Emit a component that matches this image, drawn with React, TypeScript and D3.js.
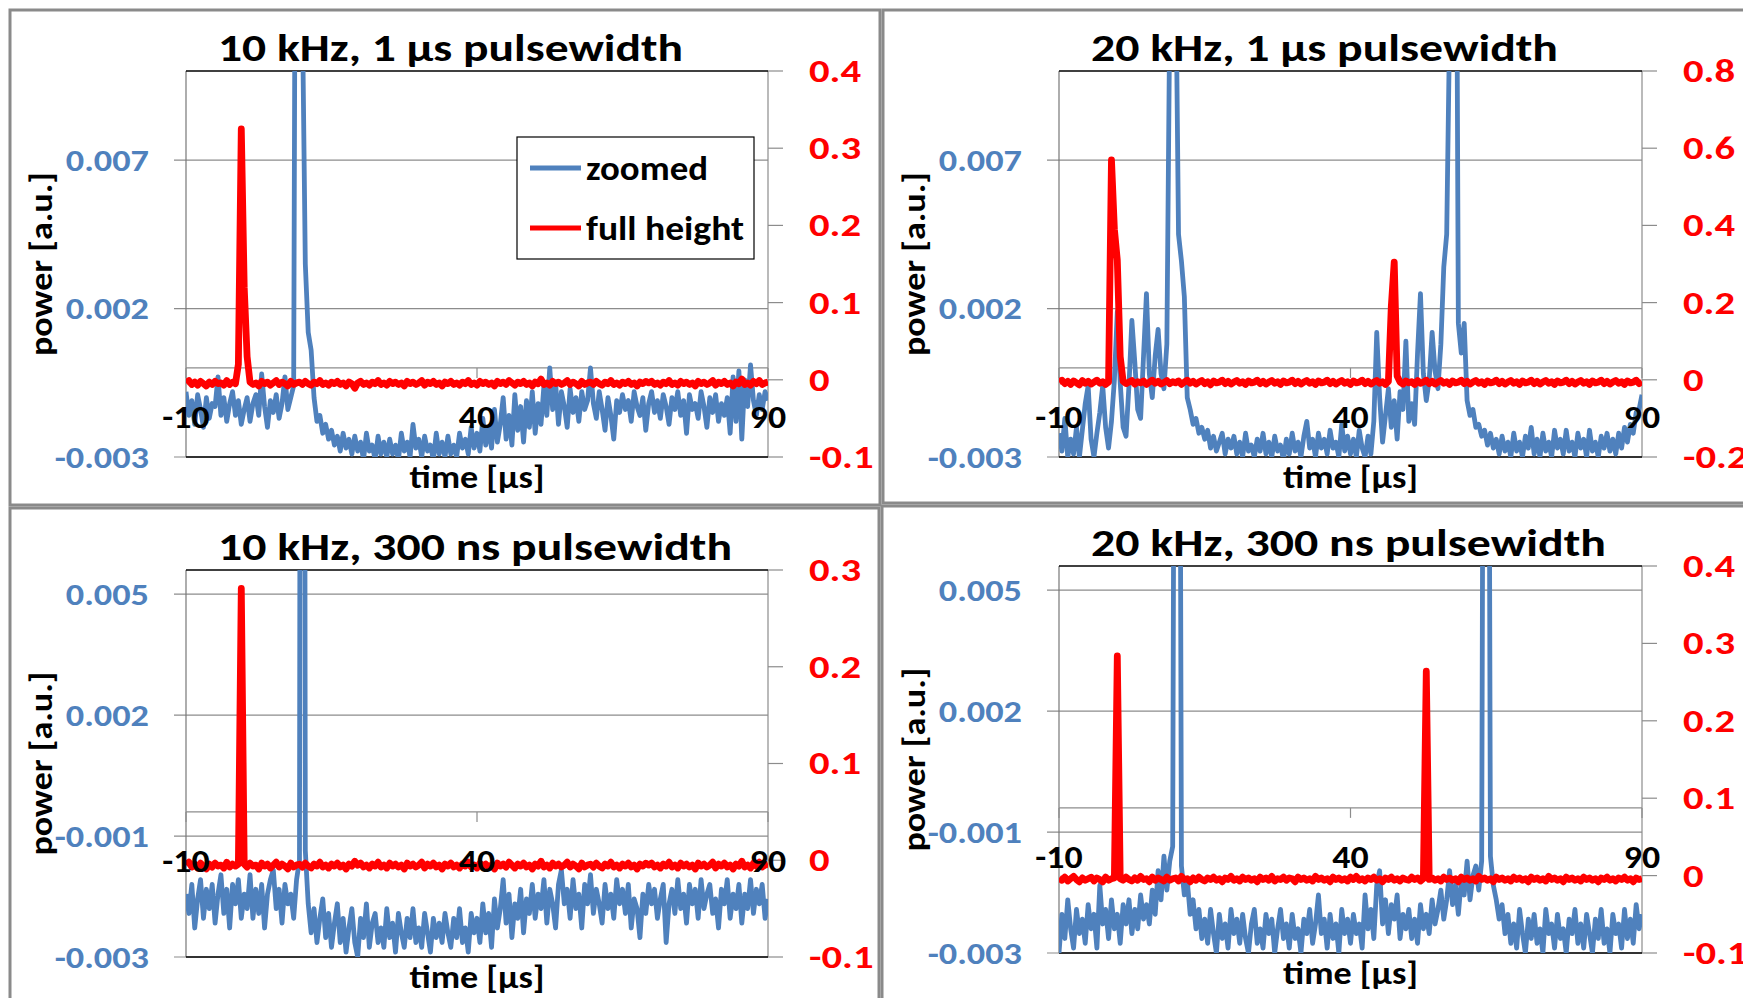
import React from 'react';
import * as d3 from 'd3';

// sampling instants of the oscilloscope traces, in µs
const timeUs: number[] = d3.range(-10, 90.001, 0.5);

// ---------- 10 kHz, 1 µs ----------
const zoomed10k1us = [
  -0.0008,-0.0016,-0.0011,-0.0019,-0.0009,-0.0014,-0.0020,-0.0010,-0.0017,-0.0012,
  -0.0013,-0.0003,-0.0016,-0.0010,-0.0018,-0.0012,-0.0008,-0.0016,-0.0011,-0.0019,
  -0.0014,-0.0010,-0.0018,-0.0012,-0.0009,-0.0016,-0.0002,-0.0013,-0.0020,-0.0011,
  -0.0015,-0.0009,-0.0017,-0.0012,-0.0003,-0.0014,-0.0010,-0.0006,0.0300,0.0400,
  0.0120,0.0035,0.0012,0.0006,-0.0010,-0.0018,-0.0016,-0.0022,-0.0019,-0.0024,
  -0.0021,-0.0026,-0.0023,-0.0028,-0.0022,-0.0027,-0.0024,-0.0029,-0.0023,-0.0028,
  -0.0025,-0.0031,-0.0022,-0.0028,-0.0026,-0.0031,-0.0023,-0.0029,-0.0025,-0.0030,
  -0.0024,-0.0029,-0.0026,-0.0031,-0.0022,-0.0028,-0.0025,-0.0030,-0.0019,-0.0027,
  -0.0024,-0.0030,-0.0023,-0.0028,-0.0026,-0.0031,-0.0022,-0.0029,-0.0025,-0.0030,
  -0.0023,-0.0029,-0.0026,-0.0030,-0.0022,-0.0027,-0.0024,-0.0029,-0.0020,-0.0027,
  -0.0022,-0.0028,-0.0017,-0.0026,-0.0020,-0.0027,-0.0014,-0.0025,-0.0019,-0.0010,
  -0.0024,-0.0016,-0.0026,-0.0009,-0.0021,-0.0013,-0.0025,-0.0011,-0.0020,-0.0008,
  -0.0022,-0.0012,-0.0019,-0.0006,-0.0016,0.0000,-0.0014,-0.0005,-0.0019,-0.0008,
  -0.0013,-0.0020,-0.0007,-0.0015,-0.0010,-0.0018,-0.0008,-0.0014,-0.0011,0.0000,
  -0.0012,-0.0017,-0.0008,-0.0014,-0.0021,-0.0010,-0.0016,-0.0024,-0.0011,-0.0015,
  -0.0009,-0.0014,-0.0011,-0.0018,-0.0008,-0.0013,-0.0016,-0.0010,-0.0021,-0.0012,
  -0.0008,-0.0015,-0.0011,-0.0017,-0.0009,-0.0013,-0.0019,-0.0010,-0.0014,-0.0008,
  -0.0016,-0.0011,-0.0022,-0.0009,-0.0014,-0.0012,-0.0017,-0.0008,-0.0013,-0.0020,
  -0.0010,-0.0015,-0.0009,-0.0018,-0.0012,-0.0016,-0.0010,-0.0022,-0.0003,-0.0018,
  -0.0001,-0.0024,-0.0004,-0.0013,0.0001,-0.0011,-0.0016,-0.0009,-0.0014,-0.0008,
  -0.0011,
];
const full10k1us = [
  -0.004,-0.001,-0.006,-0.003,-0.007,-0.002,-0.005,-0.008,-0.003,-0.006,
  -0.002,-0.005,-0.004,-0.007,-0.001,-0.006,-0.003,-0.005,0.020,0.325,
  0.120,0.030,-0.003,-0.006,-0.004,-0.008,-0.002,-0.005,-0.003,-0.007,
  -0.004,-0.001,-0.006,-0.003,-0.005,-0.008,-0.002,-0.006,-0.004,-0.003,
  -0.006,-0.002,-0.005,-0.007,-0.003,-0.005,-0.001,-0.006,-0.004,-0.007,
  -0.003,-0.005,-0.002,-0.006,-0.004,-0.008,-0.003,-0.005,-0.011,-0.004,
  -0.002,-0.006,-0.004,-0.007,-0.003,-0.005,-0.001,-0.006,-0.004,-0.007,
  -0.002,-0.005,-0.003,-0.006,-0.004,-0.008,-0.002,-0.005,-0.003,-0.006,
  -0.004,-0.001,-0.007,-0.003,-0.005,-0.002,-0.006,-0.004,-0.008,-0.003,
  -0.005,-0.002,-0.006,-0.004,-0.007,-0.003,-0.005,-0.001,-0.006,-0.004,
  -0.007,-0.002,-0.005,-0.003,-0.006,-0.004,-0.008,-0.002,-0.005,-0.003,
  -0.006,-0.001,-0.004,-0.007,-0.003,-0.005,-0.002,-0.006,-0.004,-0.008,
  -0.003,-0.005,0.001,-0.006,-0.004,-0.007,-0.002,-0.005,-0.003,-0.006,
  -0.004,-0.001,-0.006,-0.003,-0.005,-0.008,-0.002,-0.006,-0.004,-0.003,
  -0.006,-0.002,-0.005,-0.007,-0.003,-0.005,-0.001,-0.006,-0.004,-0.007,
  -0.003,-0.005,-0.002,-0.006,-0.004,-0.008,-0.003,-0.005,-0.002,-0.004,
  -0.002,-0.006,-0.004,-0.007,-0.003,-0.005,-0.001,-0.006,-0.004,-0.007,
  -0.002,-0.005,-0.003,-0.006,-0.004,-0.008,-0.002,-0.005,-0.003,-0.006,
  -0.004,-0.001,-0.007,-0.003,-0.005,-0.002,-0.006,-0.004,-0.008,-0.003,
  -0.005,0.001,-0.006,-0.004,-0.007,-0.002,-0.005,-0.001,-0.006,-0.004,
  -0.003,
];

// ---------- 20 kHz, 1 µs ----------
const zoomed20k1us = [
  -0.0022,-0.0028,-0.0017,-0.0030,-0.0024,-0.0029,-0.0020,-0.0030,-0.0021,-0.0012,
  -0.0006,-0.0024,-0.0030,-0.0022,-0.0015,-0.0006,-0.0020,-0.0027,-0.0018,-0.0004,
  0.0019,-0.0005,-0.0020,-0.0023,-0.0006,0.0016,0.0002,-0.0014,-0.0017,0.0004,
  0.0025,-0.0002,-0.0010,0.0004,0.0013,-0.0002,-0.0007,0.0008,0.0120,0.0450,
  0.0140,0.0045,0.0036,0.0024,-0.0010,-0.0014,-0.0019,-0.0017,-0.0022,-0.0020,
  -0.0024,-0.0021,-0.0027,-0.0023,-0.0028,-0.0025,-0.0022,-0.0029,-0.0024,-0.0027,
  -0.0023,-0.0029,-0.0025,-0.0030,-0.0022,-0.0028,-0.0026,-0.0030,-0.0024,-0.0028,
  -0.0022,-0.0029,-0.0025,-0.0030,-0.0023,-0.0028,-0.0026,-0.0031,-0.0024,-0.0029,
  -0.0022,-0.0028,-0.0025,-0.0030,-0.0023,-0.0018,-0.0027,-0.0024,-0.0030,-0.0022,
  -0.0027,-0.0024,-0.0029,-0.0021,-0.0027,-0.0025,-0.0030,-0.0019,-0.0028,-0.0023,
  -0.0029,-0.0024,-0.0030,-0.0021,-0.0027,-0.0030,-0.0023,-0.0029,-0.0018,0.0012,
  -0.0010,-0.0025,-0.0016,-0.0007,-0.0020,-0.0011,-0.0024,-0.0008,-0.0014,0.0009,
  -0.0018,-0.0012,-0.0019,0.0005,0.0025,-0.0002,-0.0011,-0.0004,0.0012,-0.0001,
  -0.0007,0.0008,0.0034,0.0045,0.0115,0.0500,0.0240,0.0015,0.0005,0.0015,
  -0.0011,-0.0016,-0.0014,-0.0020,-0.0019,-0.0023,-0.0021,-0.0026,-0.0022,-0.0027,
  -0.0024,-0.0029,-0.0023,-0.0028,-0.0025,-0.0030,-0.0022,-0.0028,-0.0025,-0.0030,
  -0.0023,-0.0027,-0.0020,-0.0029,-0.0024,-0.0030,-0.0022,-0.0028,-0.0025,-0.0030,
  -0.0021,-0.0027,-0.0024,-0.0029,-0.0021,-0.0028,-0.0025,-0.0030,-0.0022,-0.0027,
  -0.0024,-0.0030,-0.0021,-0.0028,-0.0025,-0.0030,-0.0023,-0.0027,-0.0022,-0.0028,
  -0.0024,-0.0029,-0.0022,-0.0027,-0.0020,-0.0025,-0.0019,-0.0022,-0.0015,-0.0014,
  -0.0009,
];
const full20k1us = [
  -0.006,-0.001,-0.010,-0.004,-0.012,-0.003,-0.008,-0.013,-0.002,-0.009,
  -0.004,-0.011,-0.006,-0.001,-0.009,-0.005,-0.012,-0.006,0.570,0.390,
  0.310,0.060,-0.004,-0.010,-0.006,-0.002,-0.011,-0.005,-0.008,-0.003,
  -0.012,-0.006,-0.001,-0.009,-0.004,-0.011,-0.007,-0.002,-0.010,-0.005,
  -0.008,-0.003,-0.012,-0.006,-0.001,-0.009,-0.004,-0.011,-0.006,-0.002,
  -0.010,-0.005,-0.013,-0.003,-0.008,-0.006,-0.001,-0.010,-0.004,-0.011,
  -0.006,-0.002,-0.009,-0.005,-0.012,-0.003,-0.008,-0.006,-0.001,-0.010,
  -0.004,-0.011,-0.006,-0.002,-0.009,-0.005,-0.012,-0.003,-0.008,-0.006,
  -0.001,-0.010,-0.004,-0.011,-0.006,-0.002,-0.009,-0.005,-0.012,-0.003,
  -0.008,-0.006,-0.001,-0.010,-0.004,-0.011,-0.006,-0.002,-0.009,-0.005,
  -0.012,-0.003,-0.008,-0.006,-0.001,-0.010,-0.004,-0.011,-0.006,-0.002,
  -0.009,-0.005,-0.012,-0.004,0.190,0.305,0.010,-0.006,-0.011,-0.003,
  -0.008,-0.005,-0.012,-0.002,-0.009,-0.006,-0.001,-0.010,-0.004,-0.011,
  -0.006,-0.002,-0.009,-0.005,-0.012,-0.003,-0.008,-0.006,-0.001,-0.010,
  -0.004,-0.011,-0.006,-0.002,-0.009,-0.005,-0.012,-0.003,-0.008,-0.006,
  -0.001,-0.010,-0.004,-0.011,-0.006,-0.002,-0.009,-0.005,-0.012,-0.003,
  -0.008,-0.006,-0.001,-0.010,-0.004,-0.011,-0.006,-0.002,-0.009,-0.005,
  -0.012,-0.003,-0.008,-0.006,-0.001,-0.010,-0.004,-0.011,-0.006,-0.002,
  -0.009,-0.005,-0.012,-0.003,-0.008,-0.006,-0.001,-0.010,-0.004,-0.011,
  -0.006,-0.002,-0.009,-0.005,-0.012,-0.003,-0.008,-0.006,-0.001,-0.010,
  -0.005,
];

// ---------- 10 kHz, 300 ns ----------
const zoomed10k300ns = [
  -0.0017,-0.0021,-0.0015,-0.0024,-0.0018,-0.0014,-0.0022,-0.0016,-0.0020,-0.0015,
  -0.0023,-0.0017,-0.0013,-0.0021,-0.0016,-0.0024,-0.0015,-0.0019,-0.0014,-0.0022,
  -0.0017,-0.0020,-0.0013,-0.0022,-0.0016,-0.0021,-0.0015,-0.0024,-0.0017,-0.0014,
  -0.0012,-0.0020,-0.0016,-0.0023,-0.0015,-0.0019,-0.0017,-0.0022,-0.0014,-0.0010,
  0.0500,-0.0008,-0.0019,-0.0025,-0.0020,-0.0027,-0.0022,-0.0018,-0.0026,-0.0021,
  -0.0028,-0.0023,-0.0019,-0.0027,-0.0022,-0.0029,-0.0024,-0.0020,-0.0027,-0.0030,
  -0.0022,-0.0026,-0.0019,-0.0028,-0.0023,-0.0021,-0.0027,-0.0024,-0.0028,-0.0020,
  -0.0026,-0.0023,-0.0029,-0.0021,-0.0025,-0.0028,-0.0022,-0.0026,-0.0020,-0.0027,
  -0.0024,-0.0028,-0.0021,-0.0025,-0.0029,-0.0022,-0.0026,-0.0023,-0.0027,-0.0021,
  -0.0025,-0.0028,-0.0022,-0.0026,-0.0020,-0.0027,-0.0024,-0.0029,-0.0021,-0.0025,
  -0.0022,-0.0027,-0.0019,-0.0025,-0.0021,-0.0028,-0.0018,-0.0024,-0.0020,-0.0014,
  -0.0023,-0.0017,-0.0026,-0.0019,-0.0022,-0.0016,-0.0025,-0.0018,-0.0021,-0.0015,
  -0.0022,-0.0017,-0.0020,-0.0014,-0.0023,-0.0016,-0.0019,-0.0024,-0.0015,-0.0012,
  -0.0019,-0.0016,-0.0022,-0.0014,-0.0020,-0.0017,-0.0024,-0.0015,-0.0019,-0.0013,
  -0.0021,-0.0016,-0.0019,-0.0023,-0.0015,-0.0020,-0.0017,-0.0022,-0.0014,-0.0019,
  -0.0016,-0.0021,-0.0015,-0.0024,-0.0018,-0.0020,-0.0026,-0.0017,-0.0021,-0.0015,
  -0.0019,-0.0016,-0.0022,-0.0018,-0.0015,-0.0027,-0.0019,-0.0016,-0.0021,-0.0014,
  -0.0020,-0.0017,-0.0023,-0.0015,-0.0019,-0.0016,-0.0022,-0.0014,-0.0020,-0.0017,
  -0.0015,-0.0021,-0.0018,-0.0024,-0.0016,-0.0019,-0.0014,-0.0022,-0.0017,-0.0020,
  -0.0015,-0.0023,-0.0017,-0.0020,-0.0014,-0.0021,-0.0016,-0.0019,-0.0015,-0.0022,
  -0.0018,
];
const full10k300ns = [
  -0.005,-0.002,-0.007,-0.004,-0.008,-0.003,-0.006,-0.009,-0.004,-0.007,
  -0.003,-0.006,-0.005,-0.008,-0.002,-0.007,-0.004,-0.006,-0.004,0.281,
  -0.004,-0.007,-0.003,-0.006,-0.005,-0.009,-0.003,-0.006,-0.004,-0.008,
  -0.005,-0.002,-0.007,-0.004,-0.006,-0.009,-0.003,-0.007,-0.005,-0.004,
  -0.007,-0.003,-0.006,-0.008,-0.004,-0.006,-0.002,-0.007,-0.005,-0.008,
  -0.004,-0.006,-0.003,-0.007,-0.005,-0.009,-0.004,-0.006,-0.001,-0.005,
  -0.003,-0.007,-0.005,-0.008,-0.004,-0.006,-0.002,-0.007,-0.005,-0.008,
  -0.003,-0.006,-0.004,-0.007,-0.005,-0.009,-0.003,-0.006,-0.004,-0.007,
  -0.005,-0.002,-0.008,-0.004,-0.006,-0.003,-0.007,-0.005,-0.009,-0.004,
  -0.006,-0.003,-0.007,-0.005,-0.008,-0.004,-0.006,-0.002,-0.007,-0.005,
  -0.008,-0.003,-0.006,-0.004,-0.007,-0.005,-0.009,-0.003,-0.006,-0.004,
  -0.007,-0.002,-0.005,-0.008,-0.004,-0.006,-0.003,-0.007,-0.005,-0.009,
  -0.004,-0.006,-0.001,-0.007,-0.005,-0.008,-0.003,-0.006,-0.004,-0.007,
  -0.005,-0.002,-0.007,-0.004,-0.006,-0.009,-0.003,-0.007,-0.005,-0.004,
  -0.007,-0.003,-0.006,-0.008,-0.004,-0.006,-0.002,-0.007,-0.005,-0.008,
  -0.004,-0.006,-0.003,-0.007,-0.005,-0.009,-0.004,-0.006,-0.003,-0.005,
  -0.003,-0.007,-0.005,-0.008,-0.004,-0.006,-0.002,-0.007,-0.005,-0.008,
  -0.003,-0.006,-0.004,-0.007,-0.005,-0.009,-0.003,-0.006,-0.004,-0.007,
  -0.005,-0.002,-0.008,-0.004,-0.006,-0.003,-0.007,-0.005,-0.009,-0.004,
  -0.006,-0.001,-0.007,-0.005,-0.008,-0.003,-0.006,-0.002,-0.007,-0.005,
  -0.004,
];

// ---------- 20 kHz, 300 ns ----------
const zoomed20k300ns = [
  -0.0030,-0.0022,-0.0027,-0.0019,-0.0025,-0.0029,-0.0021,-0.0026,-0.0023,-0.0028,
  -0.0020,-0.0025,-0.0022,-0.0029,-0.0016,-0.0024,-0.0021,-0.0027,-0.0019,-0.0025,
  -0.0022,-0.0028,-0.0020,-0.0024,-0.0019,-0.0026,-0.0021,-0.0025,-0.0018,-0.0023,
  -0.0020,-0.0024,-0.0017,-0.0022,-0.0013,-0.0019,-0.0010,-0.0017,-0.0011,-0.0008,
  0.0200,0.0200,-0.0012,-0.0018,-0.0015,-0.0022,-0.0019,-0.0025,-0.0021,-0.0027,
  -0.0023,-0.0028,-0.0021,-0.0026,-0.0030,-0.0022,-0.0027,-0.0024,-0.0029,-0.0021,
  -0.0026,-0.0023,-0.0028,-0.0022,-0.0027,-0.0030,-0.0024,-0.0021,-0.0028,-0.0025,
  -0.0029,-0.0022,-0.0026,-0.0023,-0.0030,-0.0025,-0.0021,-0.0027,-0.0024,-0.0029,
  -0.0022,-0.0027,-0.0025,-0.0030,-0.0023,-0.0026,-0.0021,-0.0028,-0.0024,-0.0018,
  -0.0026,-0.0023,-0.0029,-0.0022,-0.0027,-0.0024,-0.0030,-0.0021,-0.0026,-0.0023,
  -0.0028,-0.0022,-0.0026,-0.0024,-0.0029,-0.0018,-0.0025,-0.0021,-0.0027,-0.0016,
  -0.0013,-0.0024,-0.0019,-0.0026,-0.0020,-0.0023,-0.0018,-0.0027,-0.0022,-0.0025,
  -0.0021,-0.0027,-0.0023,-0.0028,-0.0020,-0.0025,-0.0022,-0.0026,-0.0019,-0.0024,
  -0.0021,-0.0017,-0.0023,-0.0019,-0.0013,-0.0020,-0.0016,-0.0022,-0.0015,-0.0018,
  -0.0011,-0.0019,-0.0014,-0.0012,-0.0017,-0.0011,0.0200,0.0200,-0.0010,-0.0016,
  -0.0019,-0.0023,-0.0020,-0.0026,-0.0022,-0.0028,-0.0024,-0.0029,-0.0021,-0.0026,
  -0.0030,-0.0023,-0.0027,-0.0022,-0.0028,-0.0025,-0.0030,-0.0021,-0.0026,-0.0024,
  -0.0029,-0.0022,-0.0027,-0.0025,-0.0030,-0.0023,-0.0026,-0.0021,-0.0028,-0.0024,
  -0.0029,-0.0022,-0.0026,-0.0030,-0.0023,-0.0027,-0.0021,-0.0028,-0.0025,-0.0030,
  -0.0022,-0.0026,-0.0024,-0.0029,-0.0021,-0.0027,-0.0023,-0.0028,-0.0020,-0.0025,
  -0.0022,
];
const full20k300ns = [
  -0.003,-0.006,-0.002,-0.007,-0.004,-0.001,-0.005,-0.008,-0.003,-0.006,
  -0.004,-0.002,-0.007,-0.003,-0.005,-0.008,-0.002,-0.006,-0.004,-0.003,
  0.284,-0.004,-0.006,-0.002,-0.005,-0.007,-0.003,-0.006,-0.001,-0.005,
  -0.004,-0.008,-0.002,-0.006,-0.003,-0.005,-0.007,-0.002,-0.006,-0.004,
  -0.003,-0.007,-0.001,-0.005,-0.004,-0.008,-0.003,-0.006,-0.002,-0.005,
  -0.007,-0.003,-0.005,-0.002,-0.006,-0.004,-0.008,-0.003,-0.005,-0.001,
  -0.006,-0.004,-0.007,-0.002,-0.005,-0.003,-0.006,-0.004,-0.008,-0.002,
  -0.005,-0.003,-0.006,-0.001,-0.007,-0.004,-0.005,-0.002,-0.006,-0.003,
  -0.004,-0.008,-0.002,-0.005,-0.003,-0.006,-0.004,-0.007,-0.001,-0.005,
  -0.003,-0.006,-0.004,-0.008,-0.002,-0.005,-0.003,-0.006,-0.004,-0.007,
  -0.002,-0.005,-0.001,-0.006,-0.004,-0.007,-0.003,-0.005,-0.002,-0.006,
  -0.004,-0.008,-0.003,-0.005,-0.002,-0.006,-0.004,-0.007,-0.003,-0.005,
  -0.006,-0.002,-0.005,-0.003,-0.007,-0.004,0.264,-0.005,-0.003,-0.006,
  -0.004,-0.007,-0.002,-0.005,-0.003,-0.006,-0.004,-0.008,-0.002,-0.005,
  -0.003,-0.006,-0.004,-0.007,-0.001,-0.005,-0.003,-0.006,-0.004,-0.008,
  -0.002,-0.005,-0.003,-0.006,-0.004,-0.007,-0.002,-0.005,-0.003,-0.006,
  -0.004,-0.008,-0.002,-0.005,-0.003,-0.006,-0.004,-0.007,-0.001,-0.005,
  -0.003,-0.006,-0.004,-0.008,-0.002,-0.005,-0.003,-0.006,-0.004,-0.007,
  -0.002,-0.005,-0.003,-0.006,-0.004,-0.008,-0.003,-0.005,-0.002,-0.006,
  -0.004,-0.007,-0.003,-0.005,-0.002,-0.006,-0.004,-0.008,-0.003,-0.005,
  -0.004,
];

// ---------- axes ----------
const titles = [
  '10 kHz, 1 µs pulsewidth',
  '20 kHz, 1 µs pulsewidth',
  '10 kHz, 300 ns pulsewidth',
  '20 kHz, 300 ns pulsewidth',
];
const xTickValues = [-10, 40, 90];
const xTickLabels = ['-10', '40', '90'];
const leftTicks1us = [-0.003, 0.002, 0.007];
const leftLabels1us = ['-0.003', '0.002', '0.007'];
const leftTicks300ns = [-0.003, -0.0005, 0.002, 0.0045];
const leftLabels300ns = ['-0.003', '-0.001', '0.002', '0.005'];
const rightTicks10k1us = [-0.1, 0, 0.1, 0.2, 0.3, 0.4];
const rightLabels10k1us = ['-0.1', '0', '0.1', '0.2', '0.3', '0.4'];
const rightTicks20k1us = [-0.2, 0, 0.2, 0.4, 0.6, 0.8];
const rightLabels20k1us = ['-0.2', '0', '0.2', '0.4', '0.6', '0.8'];
const rightTicks10k300ns = [-0.1, 0, 0.1, 0.2, 0.3];
const rightLabels10k300ns = ['-0.1', '0', '0.1', '0.2', '0.3'];
const rightTicks20k300ns = [-0.1, 0, 0.1, 0.2, 0.3, 0.4];
const rightLabels20k300ns = ['-0.1', '0', '0.1', '0.2', '0.3', '0.4'];
const legendLabels = ['zoomed', 'full height'];

const BLUE = '#4F81BD';
const RED = '#FF0000';
const GRID = '#8C8C8C';
const FRAME = '#8A8A8A';
const FONT = "Carlito, Calibri, Lato, 'Open Sans', sans-serif";
const BLUE_W = 4.8;
const RED_W = 6.8;

interface PanelDef {
  title: string;
  titleLen: number;
  zoomed: number[];
  full: number[];
  leftDomain: [number, number];
  leftTicks: number[];
  leftLabels: string[];
  rightDomain: [number, number];
  rightTicks: number[];
  rightLabels: string[];
  frame: { x: number; y: number; w: number; h: number };
  plot: { left: number; right: number; top: number; bottom: number };
  legend: boolean;
}

const panels: PanelDef[] = [
  {
    title: titles[0], titleLen: 465, zoomed: zoomed10k1us, full: full10k1us,
    leftDomain: [-0.003, 0.01], leftTicks: leftTicks1us, leftLabels: leftLabels1us,
    rightDomain: [-0.1, 0.4], rightTicks: rightTicks10k1us, rightLabels: rightLabels10k1us,
    frame: { x: 10, y: 10, w: 870, h: 495 },
    plot: { left: 186, right: 768, top: 71, bottom: 457 }, legend: true,
  },
  {
    title: titles[1], titleLen: 467, zoomed: zoomed20k1us, full: full20k1us,
    leftDomain: [-0.003, 0.01], leftTicks: leftTicks1us, leftLabels: leftLabels1us,
    rightDomain: [-0.2, 0.8], rightTicks: rightTicks20k1us, rightLabels: rightLabels20k1us,
    frame: { x: 883, y: 10, w: 880, h: 493 },
    plot: { left: 1059, right: 1642, top: 71, bottom: 457 }, legend: false,
  },
  {
    title: titles[2], titleLen: 514, zoomed: zoomed10k300ns, full: full10k300ns,
    leftDomain: [-0.003, 0.005], leftTicks: leftTicks300ns, leftLabels: leftLabels300ns,
    rightDomain: [-0.1, 0.3], rightTicks: rightTicks10k300ns, rightLabels: rightLabels10k300ns,
    frame: { x: 10, y: 508, w: 869, h: 500 },
    plot: { left: 186, right: 768, top: 570, bottom: 957 }, legend: false,
  },
  {
    title: titles[3], titleLen: 515, zoomed: zoomed20k300ns, full: full20k300ns,
    leftDomain: [-0.003, 0.005], leftTicks: leftTicks300ns, leftLabels: leftLabels300ns,
    rightDomain: [-0.1, 0.4], rightTicks: rightTicks20k300ns, rightLabels: rightLabels20k300ns,
    frame: { x: 882, y: 506, w: 880, h: 500 },
    plot: { left: 1059, right: 1642, top: 566, bottom: 953 }, legend: false,
  },
];

// text stretched horizontally (the source typeface is wider than the fallback)
function Label({ x, y, sx, anchor, size, fill, children }: {
  x: number; y: number; sx: number; anchor: 'start' | 'middle' | 'end'; size: number; fill: string; children: React.ReactNode;
}) {
  return (
    <text transform={`translate(${x},${y}) scale(${sx},1)`} textAnchor={anchor} dominantBaseline="central"
      fontFamily={FONT} fontWeight="bold" fontSize={size} fill={fill}>{children}</text>
  );
}

function Panel({ p, id }: { p: PanelDef; id: number }) {
  const { left, right, top, bottom } = p.plot;
  const x = d3.scaleLinear().domain([-10, 90]).range([left, right]);
  const yL = d3.scaleLinear().domain(p.leftDomain).range([bottom, top]);
  const yR = d3.scaleLinear().domain(p.rightDomain).range([bottom, top]);
  const lineL = d3.line<number>().x((_, i) => x(timeUs[i])).y((v) => yL(v));
  const lineR = d3.line<number>().x((_, i) => x(timeUs[i])).y((v) => yR(v));
  const y0 = yL(0);
  const cx = (left + right) / 2;
  const cy = (top + bottom) / 2;
  const clipId = `clip-${id}`;

  return (
    <g>
      <rect x={p.frame.x} y={p.frame.y} width={p.frame.w} height={p.frame.h}
        fill="none" stroke={FRAME} strokeWidth={3} />
      <defs>
        <clipPath id={clipId}>
          <rect x={left} y={top} width={right - left} height={bottom - top} />
        </clipPath>
      </defs>
      {p.leftTicks.map((v, i) => (
        <line key={`g${i}`} x1={left - 12} x2={right} y1={yL(v)} y2={yL(v)} stroke={GRID} strokeWidth={1.2} />
      ))}
      {p.rightTicks.map((v, i) => (
        <line key={`r${i}`} x1={right} x2={right + 15} y1={yR(v)} y2={yR(v)} stroke={GRID} strokeWidth={1.2} />
      ))}
      <line x1={left} x2={left} y1={top} y2={bottom} stroke="#777" strokeWidth={1.2} />
      <line x1={right} x2={right} y1={top} y2={bottom} stroke={GRID} strokeWidth={1.2} />
      <line x1={left} x2={right} y1={top} y2={top} stroke="#000" strokeWidth={1.3} />
      <line x1={left} x2={right} y1={bottom} y2={bottom} stroke="#000" strokeWidth={1.3} />
      <line x1={left} x2={right} y1={y0} y2={y0} stroke={GRID} strokeWidth={1.2} />
      {xTickValues.map((v, i) => (
        <line key={`xt${i}`} x1={x(v)} x2={x(v)} y1={y0} y2={y0 + 10} stroke={GRID} strokeWidth={1.2} />
      ))}
      <g clipPath={`url(#${clipId})`}>
        <path d={lineL(p.zoomed) || ''} fill="none" stroke={BLUE} strokeWidth={BLUE_W} strokeLinejoin="round" />
        <path d={lineR(p.full) || ''} fill="none" stroke={RED} strokeWidth={RED_W} strokeLinejoin="round" />
      </g>
      {xTickLabels.map((t, i) => (
        <Label key={`xl${i}`} x={x(xTickValues[i])} y={y0 + 49} sx={1.12} anchor="middle" size={32} fill="#000">{t}</Label>
      ))}
      {p.leftLabels.map((t, i) => (
        <Label key={`ll${i}`} x={left - 37} y={yL(p.leftTicks[i])} sx={1.17} anchor="end" size={31} fill={BLUE}>{t}</Label>
      ))}
      {p.rightLabels.map((t, i) => (
        <Label key={`rl${i}`} x={right + 41} y={yR(p.rightTicks[i])} sx={1.27} anchor="start" size={32} fill={RED}>{t}</Label>
      ))}
      <text x={left + 32} y={top - 10} fontFamily={FONT} fontWeight="bold" fontSize={39} fill="#000"
        textLength={p.titleLen} lengthAdjust="spacingAndGlyphs">{p.title}</text>
      <text x={cx} y={bottom + 31} textAnchor="middle" fontFamily={FONT} fontWeight="bold" fontSize={32}
        fill="#000" textLength={135} lengthAdjust="spacingAndGlyphs">time [µs]</text>
      <text transform={`translate(${left - 134},${cy}) rotate(-90)`} textAnchor="middle" fontFamily={FONT}
        fontWeight="bold" fontSize={33} fill="#000" textLength={184} lengthAdjust="spacingAndGlyphs">power [a.u.]</text>
      {p.legend && (
        <g>
          <rect x={left + 331} y={top + 66} width={237} height={122} fill="#fff" stroke="#000" strokeWidth={1.2} />
          <line x1={left + 344} x2={left + 395} y1={top + 97} y2={top + 97} stroke={BLUE} strokeWidth={BLUE_W} />
          <line x1={left + 344} x2={left + 395} y1={top + 157} y2={top + 157} stroke={RED} strokeWidth={5} />
          <text x={left + 400} y={top + 97} dominantBaseline="central" fontFamily={FONT} fontWeight="bold"
            fontSize={34} fill="#000" textLength={122} lengthAdjust="spacingAndGlyphs">{legendLabels[0]}</text>
          <text x={left + 400} y={top + 157} dominantBaseline="central" fontFamily={FONT} fontWeight="bold"
            fontSize={34} fill="#000" textLength={158} lengthAdjust="spacingAndGlyphs">{legendLabels[1]}</text>
        </g>
      )}
    </g>
  );
}

export default function App() {
  return (
    <svg width={1743} height={998} style={{ position: 'absolute', left: 0, top: 0, background: '#fff' }}>
      <rect x={0} y={0} width={1743} height={998} fill="#fff" />
      {panels.map((p, k) => (
        <Panel key={k} p={p} id={k} />
      ))}
    </svg>
  );
}
